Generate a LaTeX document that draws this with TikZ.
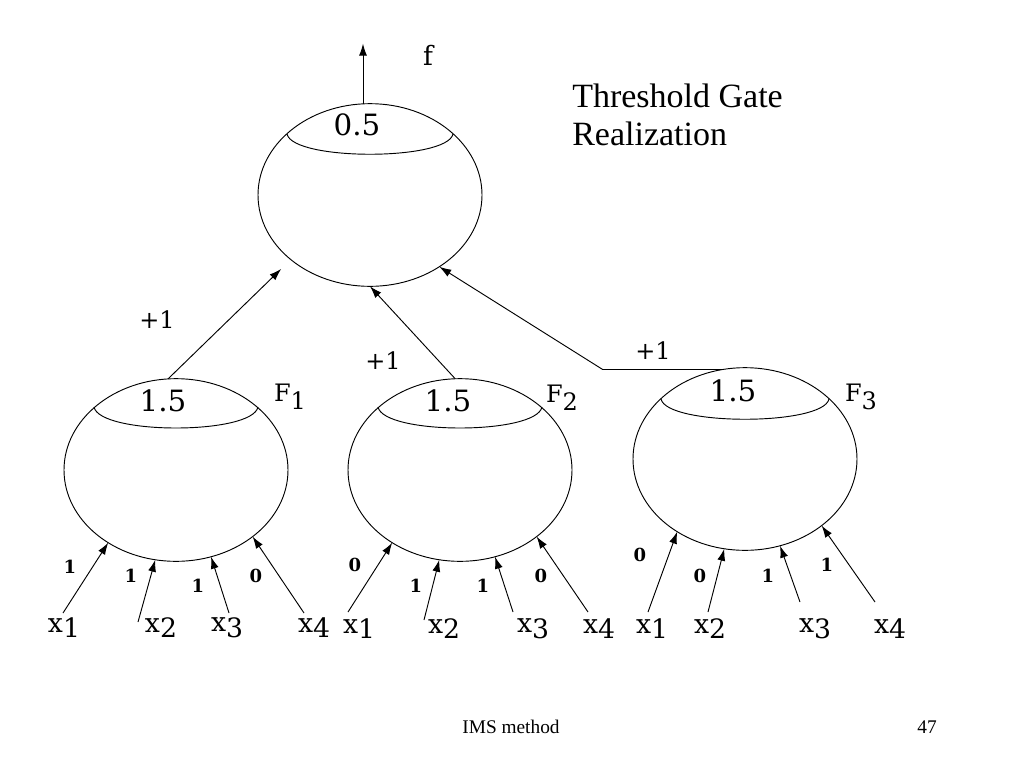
\documentclass[tikz,border=0pt]{standalone}
\usepackage{fontspec}
\setmainfont{Liberation Serif}
\newfontfamily\djs{DejaVu Serif}
\usetikzlibrary{shapes.geometric,arrows.meta}
\newcommand\xsub[1]{x\raisebox{-0.22em}{#1}}
\newcommand\Fsub[1]{F\raisebox{-0.33em}{#1}}
\newcommand\gatelid[4]{\draw[lidline] ([shift={(-#2,-#3)}]#1.center) .. controls +(6,#4) and +(-6,#4) .. ([shift={(#2,-#3)}]#1.center);}
\begin{document}
\begin{tikzpicture}[x=0.75pt,y=-0.75pt,
  gate/.style={ellipse,draw,line width=0.7pt,minimum width=168pt,minimum height=137pt,inner sep=0pt,outer sep=0pt},
  lidline/.style={line width=0.7pt},
  arr/.style={draw,line width=0.7pt,-{Latex[length=9pt,width=6pt]}},
  thr/.style={font=\djs\fontsize{22}{26}\selectfont,inner sep=0pt},
  plus/.style={font=\djs\fontsize{18}{21}\selectfont,inner sep=0pt},
  flab/.style={font=\djs\fontsize{18}{21}\selectfont,inner sep=0pt},
  wlab/.style={font=\djs\bfseries\fontsize{13.5}{16}\selectfont,inner sep=0pt},
  xlab/.style={font=\djs\fontsize{20}{24}\selectfont,inner sep=0pt},
  title/.style={font=\fontsize{25.5}{30}\selectfont,inner sep=0pt,anchor=base west},
  foot/.style={font=\fontsize{14.5}{17}\selectfont,inner sep=0pt,anchor=base}]
\useasboundingbox (0,0) rectangle (1024,768);

% gates
\node[gate] (top) at (370,195) {};
\node[gate] (g1) at (176,470) {};
\node[gate] (g2) at (460,470) {};
\node[gate] (g3) at (745,459) {};
\gatelid{top}{83}{61}{27}
\gatelid{g1}{82}{63}{28}
\gatelid{g2}{82}{63}{28}
\gatelid{g3}{84}{60}{27}

% thresholds
\node[thr] (t0) at (357,125) {0.5};
\node[thr] (t1) at (163,401) {1.5};
\node[thr] (t2) at (448,401) {1.5};
\node[thr] (t3) at (733,391) {1.5};

% gate names
\node[flab] (n1) at (290,397) {\Fsub{1}};
\node[flab] (n2) at (562,398) {\Fsub{2}};
\node[flab] (n3) at (861,397) {\Fsub{3}};

% output
\node[font=\djs\fontsize{20}{24}\selectfont,inner sep=0pt] (f) at (428,55) {f};
\draw[arr] (top.north) ++(-7,0) -- ++(0,-60);

% connections to the top gate
\draw[arr,shorten >=10pt] (g1.95) -- (top.south west);
\draw[arr] (g2.93) -- (top.south);
\draw[arr] (g3.104) -- ++(-120,0) -- (top.-46);
\node[plus] (p1) at (157,320) {+1};
\node[plus] (p2) at (383,361) {+1};
\node[plus] (p3) at (653,351) {+1};

% inputs
\foreach \g/\i/\ang/\tx/\ty/\wx/\wy/\w/\lx/\ly in {
  g1/1/227/63/613/70/567/1/64/628,
  g1/2/257/138/622/131/576/1/161/628,
  g1/3/292/229/613/198/586/1/227/628,
  g1/4/319/304/613/256/576/0/314/628,
  g2/1/227/348/612/355/565/0/359/629,
  g2/2/257/424/620/416/586/1/444/629,
  g2/3/292/513/612/483/586/1/533/629,
  g2/4/319/588/612/541/576/0/599/629,
  g3/1/227/648/612/640/555/0/652/629,
  g3/2/257/708/612/700/576/0/710/629,
  g3/3/292/800/602/768/576/1/815/629,
  g3/4/319/875/602/827/565/1/890/629}{
  \coordinate (tail\g\i) at (\tx,\ty);
  \draw[arr] (tail\g\i) -- (\g.\ang);
  \node[wlab] (w\g\i) at (\wx,\wy) {\w};
  \node[xlab] (x\g\i) at (\lx,\ly) {\xsub{\i}};
}

% title and footer
\node[title] (ttl1) at (572,107) {Threshold Gate};
\node[title] (ttl2) at (572,145) {Realization};
\node[foot] (ft) at (511,733) {IMS method};
\node[foot] (pg) at (927,733) {47};
\end{tikzpicture}
\end{document}
